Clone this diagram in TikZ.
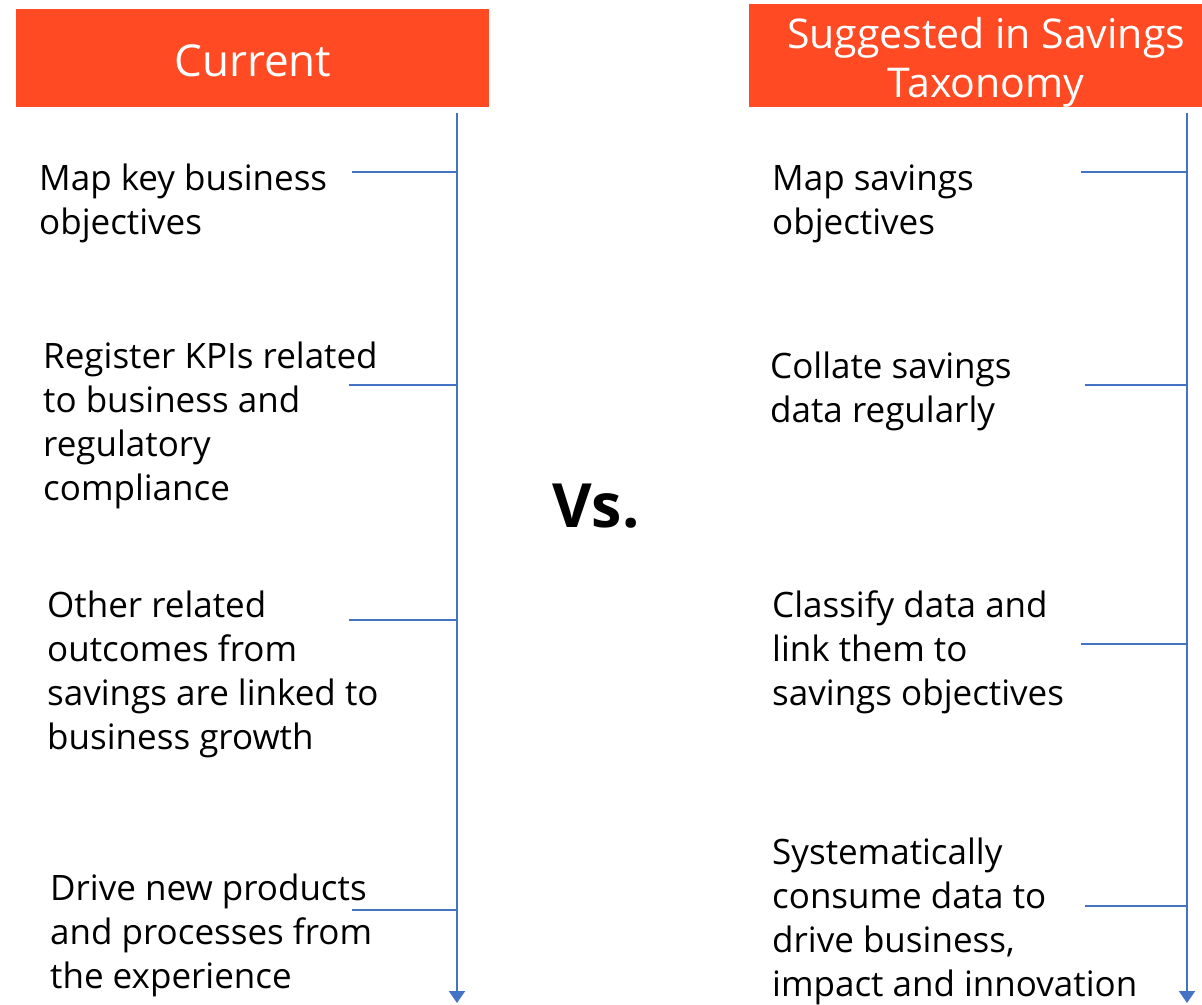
\documentclass[tikz,border=0pt]{standalone}
\usepackage{fontspec}
\setmainfont{Open Sans}
\usetikzlibrary{arrows.meta}
\definecolor{headred}{RGB}{255,74,35}
\definecolor{axisblue}{RGB}{68,114,196}
% a block of left-aligned lines whose baseline is that of its first line
\newcommand{\itemlines}[1]{\begin{tabular}[t]{@{}l@{}}#1\end{tabular}}
\newcommand{\headlines}[1]{\begin{tabular}[t]{@{}c@{}}#1\end{tabular}}
\begin{document}
\begin{tikzpicture}[x=1pt,y=-1pt,
  header/.style={fill=headred,draw=none,inner sep=0pt},
  headtext/.style={text=white,anchor=base,inner sep=0pt},
  item/.style={anchor=base west,inner sep=0pt,font=\fontsize{35}{44}\selectfont},
  axis/.style={axisblue,line width=2pt,-{Triangle[width=16pt,length=12pt]}},
  tick/.style={axisblue,line width=1.3pt}]
\useasboundingbox (0,0) rectangle (1202,1004);

% column headers
\fill[header] (16,9) rectangle (489,107);
\node[headtext,font=\fontsize{44}{48}\selectfont] (hcur) at (253,76) {Current};
\fill[header] (749,4) rectangle (1202,107);
\node[headtext,font=\fontsize{41}{49}\selectfont] (hsug) at (986,48) {\headlines{Suggested in Savings\\Taxonomy}};

% timelines
\coordinate (axLtop) at (457,113);
\coordinate (axLbot) at (457,1003);
\coordinate (axRtop) at (1187,113);
\coordinate (axRbot) at (1187,1003);
\draw[axis] (axLtop) -- (axLbot);
\draw[axis] (axRtop) -- (axRbot);

% current practice
\node[item] (c1) at (39,190) {\itemlines{Map key business\\objectives}};
\node[item] (c2) at (43,368) {\itemlines{Register KPIs related\\to business and\\regulatory\\compliance}};
\node[item] (c3) at (47,617) {\itemlines{Other related\\outcomes from\\savings are linked to\\business growth}};
\node[item] (c4) at (50,900) {\itemlines{Drive new products\\and processes from\\the experience}};

% suggested practice
\node[item] (s1) at (772,190) {\itemlines{Map savings\\objectives}};
\node[item] (s2) at (770,378) {\itemlines{Collate savings\\data regularly}};
\node[item] (s3) at (772,617) {\itemlines{Classify data and\\link them to\\savings objectives}};
\node[item] (s4) at (772,864) {\itemlines{Systematically\\consume data to\\drive business,\\impact and innovation}};

% ticks joining items to the timelines
\coordinate (tc1) at (352,172);
\coordinate (tc2) at (349,385);
\coordinate (tc3) at (349,620);
\coordinate (tc4) at (352,910);
\coordinate (ts1) at (1081,172);
\coordinate (ts2) at (1085,385);
\coordinate (ts3) at (1081,644);
\coordinate (ts4) at (1085,906);
\foreach \t in {tc1,tc2,tc3,tc4}{\draw[tick] (\t) -- (\t -| axLtop);}
\foreach \t in {ts1,ts2,ts3,ts4}{\draw[tick] (\t) -- (\t -| axRtop);}

\node[font=\bfseries\fontsize{61}{66}\selectfont,anchor=base,inner sep=0pt] (vs) at (596,527) {Vs.};
\end{tikzpicture}
\end{document}
